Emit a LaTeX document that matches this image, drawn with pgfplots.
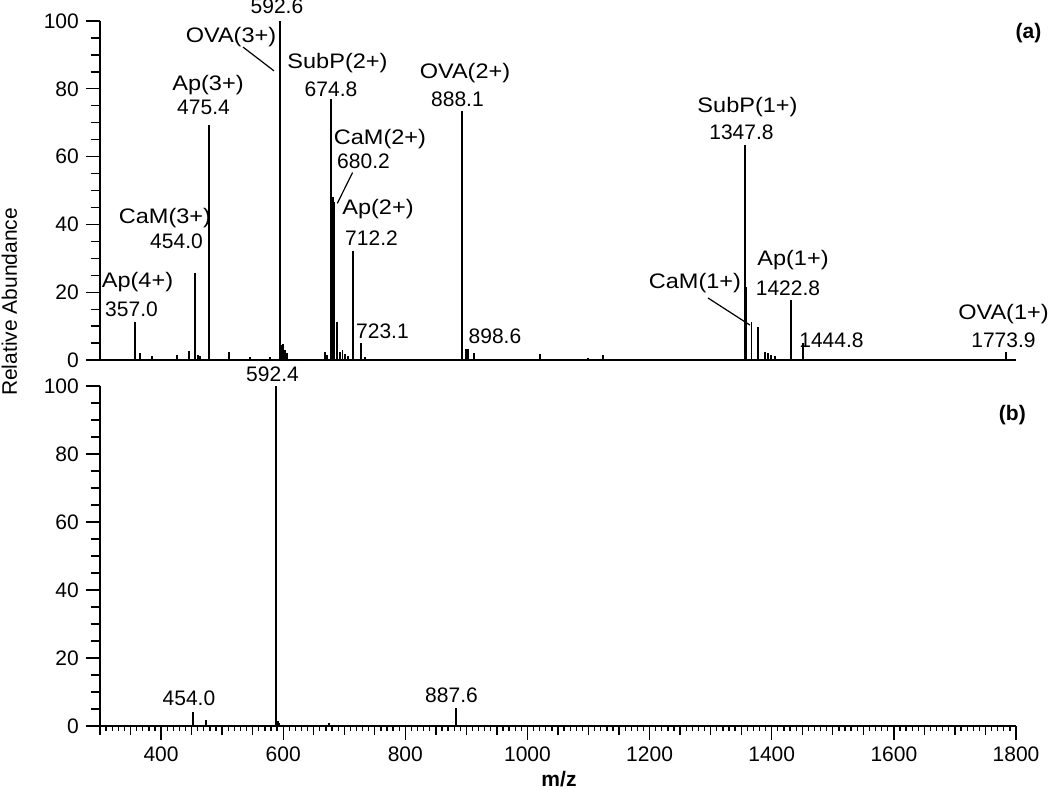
\documentclass[border=0pt]{standalone}
\usepackage{fontspec}
\setmainfont{Liberation Sans}
\usepackage{graphicx}
\usepackage{pgfplots}
\pgfplotsset{compat=1.18}

\pgfplotsset{
  spec/.style={
    scale only axis, width=458pt,
    xmin=300, xmax=1800, ymin=0, ymax=100,
    axis x line*=bottom, axis y line*=left,
    axis line style={line width=0.8pt},
    tick align=outside,
    ytick={0,20,...,100},
    extra y ticks={5,10,15,25,30,35,45,50,55,65,70,75,85,90,95},
    extra y tick labels={},
    extra y tick style={major tick length=4.7pt},
    major tick length=6.8pt, minor tick length=2.3pt,
    every tick/.style={black, line width=0.65pt},
    tick label style={font=\fontsize{10.5}{12}\selectfont},
    yticklabel style={inner xsep=3.6pt},
    /pgf/number format/assume math mode=true,
    /pgf/number format/1000 sep={},
    clip=false,
  },
  spectrum/.style={ycomb, black, line width=0.9pt, mark=none},
}
\tikzset{lab/.style={anchor=base, inner sep=0pt, font=\fontsize{10.5}{12}\selectfont}}
% ion labels are set a little wider than the digits
\newcommand{\ion}[1]{\scalebox{1.12}[1]{#1}}

\begin{document}
\begin{tikzpicture}
\useasboundingbox (-50pt,-31.5pt) rectangle (475pt,363pt);

% ---------------- (b) ----------------
\begin{axis}[spec, at={(0,0)}, anchor=south west, height=170pt,
  xtick={400,600,...,1800},
  minor xtick={300,310,...,1800},
  extra x ticks={300,350,450,500,550,650,700,750,850,900,950,1050,1100,1150,1250,1300,1350,1450,1500,1550,1650,1700,1750},
  extra x tick labels={},
  extra x tick style={major tick length=4.5pt},
]
\addplot[spectrum] coordinates {
(451.8,4.2) (473.6,1.8) (588.2,100) (591,1.5) (594,1.0) (675,1.0) (882.5,5.3)
};
\node[lab] at (axis cs:582.5,101.3) {592.4};
\node[lab] at (axis cs:445.7,5.9) {454.0};
\node[lab] at (axis cs:875.6,6.9) {887.6};
\node[lab, font=\fontsize{10.5}{12}\selectfont\bfseries] at (axis cs:1794,90) {(b)};
\end{axis}

% ---------------- (a) ----------------
\begin{axis}[spec, at={(0,183pt)}, anchor=south west, height=169.5pt,
  xtick=\empty,
]
\addplot[spectrum] coordinates {
(357.3,11.2) (365.5,2.2) (385,1.2) (426,1.5) (445.7,2.7) (455.6,25.7) (460,1.5) (464,1.2)
(478,69.3) (511,2.5) (545.6,0.8) (578.4,1.0) (594.7,100) (597.5,4.5) (600,4.8) (603,3.0)
(606,2.0) (668,2.5) (672,1.5) (678.3,77) (681.5,48) (684,46.5) (688.6,11.2) (693,2.5)
(697,3.0) (701,1.8) (706,1.2) (714.3,32.3) (727.4,4.9) (734,1.0) (892.3,73.5) (898.5,3.2)
(901,3.2) (903.4,3.2) (912.8,2.2) (1020.5,1.7) (1099,0.5) (1123.7,1.5) (1356.2,63.4)
(1358,21.6) (1367,11.3) (1377,9.8) (1389,2.5) (1394,2) (1399,1.5) (1405,1.2) (1431,17.7)
(1451,5) (1783.6,2.5)
};
\node[lab] at (axis cs:589.8,102.2) {592.6};
\node[lab] at (axis cs:514.5,93.6) {\ion{OVA(3+)}};
\node[lab] at (axis cs:688.9,86.1) {\ion{SubP(2+)}};
\node[lab] at (axis cs:678.3,77.7) {674.8};
\node[lab] at (axis cs:476.9,79.5) {\ion{Ap(3+)}};
\node[lab] at (axis cs:469.5,72.3) {475.4};
\node[lab] at (axis cs:758.5,63.7) {\ion{CaM(2+)}};
\node[lab] at (axis cs:731.5,56.6) {680.2};
\node[lab] at (axis cs:755.2,42.8) {\ion{Ap(2+)}};
\node[lab] at (axis cs:744.6,33.9) {712.2};
\node[lab] at (axis cs:762.6,6.4) {723.1};
\node[lab] at (axis cs:897.7,82.9) {\ion{OVA(2+)}};
\node[lab] at (axis cs:885.4,74.7) {888.1};
\node[lab] at (axis cs:946.8,4.9) {898.6};
\node[lab] at (axis cs:406.4,40.3) {\ion{CaM(3+)}};
\node[lab] at (axis cs:425.3,32.9) {454.0};
\node[lab] at (axis cs:361.4,21.4) {\ion{Ap(4+)}};
\node[lab] at (axis cs:351.6,12.8) {357.0};
\node[lab] at (axis cs:1360.3,73.0) {\ion{SubP(1+)}};
\node[lab] at (axis cs:1350.4,64.9) {1347.8};
\node[lab] at (axis cs:1434.8,28.0) {\ion{Ap(1+)}};
\node[lab] at (axis cs:1426.6,18.9) {1422.8};
\node[lab] at (axis cs:1274.3,21.2) {\ion{CaM(1+)}};
\node[lab] at (axis cs:1497.8,3.6) {1444.8};
\node[lab] at (axis cs:1779.5,12.0) {\ion{OVA(1+)}};
\node[lab] at (axis cs:1779.5,3.6) {1773.9};
\node[lab, font=\fontsize{10.5}{12}\selectfont\bfseries] at (axis cs:1820.4,94.9) {(a)};
\draw[line width=0.6pt] (axis cs:534.2,92.3) -- (axis cs:584.9,85.3);
\draw[line width=0.6pt] (axis cs:713.6,55.3) -- (axis cs:688.6,46.2);
\draw[line width=0.6pt] (axis cs:1295.6,18.3) -- (axis cs:1364.4,10.3);
\end{axis}

\node[anchor=base, rotate=90, inner sep=0pt, font=\fontsize{10.5}{12}\selectfont] at (-41.6pt,212pt) {Relative Abundance};
\node[anchor=base, inner sep=0pt, font=\fontsize{10.5}{12}\selectfont\bfseries] at (229.5pt,-30.2pt) {m/z};
\end{tikzpicture}
\end{document}
